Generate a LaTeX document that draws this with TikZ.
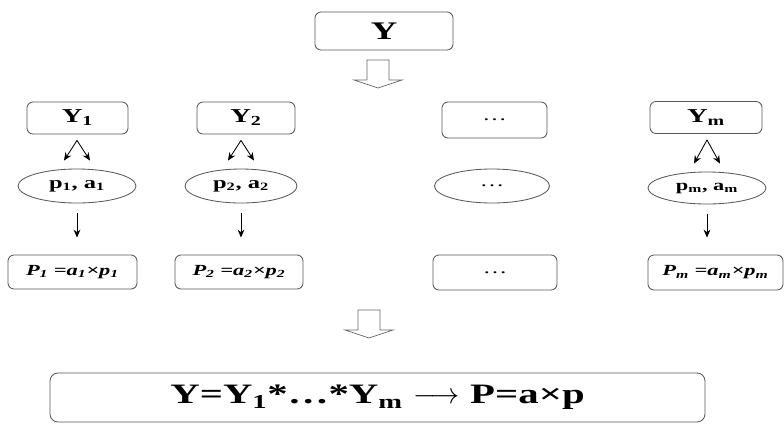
\documentclass[tikz,border=0pt]{standalone}
\usepackage{fontspec}
\setmainfont{Liberation Serif}[FakeStretch=1.45]
\usetikzlibrary{arrows.meta,calc,shapes.geometric}
\tikzset{
  box/.style={draw=black!65,line width=0.6pt,rounded corners=1.5mm,inner sep=0pt,minimum height=8mm},
  oval/.style={draw=black!65,line width=0.6pt,ellipse,inner sep=0pt,minimum height=8.5mm},
  hollow/.style={draw=black!60,line width=0.5pt,fill=white},
  link/.style={-{Stealth[length=2mm,width=1.7mm]},line width=0.6pt},
}
\newcommand{\downblock}[1]{\draw[hollow] #1 ++(-11,0) -- ++(22,0) -- ++(0,20) -- ++(13,0) -- ++(-24,8) -- ++(-24,-8) -- ++(13,0) -- cycle;}

\begin{document}
\begin{tikzpicture}[x=0.25mm,y=-0.25mm]
\useasboundingbox (0,0) rectangle (784,423);
% top
\node[box,minimum width=34.5mm,minimum height=9.5mm,font=\fontsize{18}{20}\selectfont\bfseries] (y) at (384,31) {Y};
\downblock{(378,60)}
% row of parts
\node[box,minimum width=25.25mm,font=\fontsize{14}{16}\selectfont\bfseries] (y1) at (77.5,118) {Y\textsubscript{1}};
\node[box,minimum width=24.5mm,font=\fontsize{14}{16}\selectfont\bfseries] (y2) at (246,118) {Y\textsubscript{2}};
\node[box,minimum width=26.25mm,minimum height=9mm,font=\fontsize{12}{14}\selectfont] (ydots) at (494.5,120) {…};
\node[box,minimum width=28mm,font=\fontsize{14}{16}\selectfont\bfseries] (ym) at (706,117.5) {Y\textsubscript{m}};
% parameters
\node[oval,minimum width=29.5mm,font=\fontsize{12}{14}\selectfont\bfseries] (e1) at (77,186) {p\textsubscript{1}, a\textsubscript{1}};
\node[oval,minimum width=28mm,font=\fontsize{12}{14}\selectfont\bfseries] (e2) at (241,186) {p\textsubscript{2}, a\textsubscript{2}};
\node[oval,minimum width=28.75mm,font=\fontsize{12}{14}\selectfont] (edots) at (492,186) {…};
\node[oval,minimum width=29.5mm,minimum height=8mm,font=\fontsize{11}{13}\selectfont\bfseries] (em) at (707,188) {p\textsubscript{m}, a\textsubscript{m}};
% products
\node[box,minimum width=32.25mm,minimum height=8.5mm,font=\fontsize{11}{13}\selectfont\bfseries\itshape] (p1) at (72.5,272) {P\textsubscript{1} =a\textsubscript{1}×p\textsubscript{1}};
\node[box,minimum width=32mm,minimum height=8.5mm,font=\fontsize{11}{13}\selectfont\bfseries\itshape] (p2) at (239,272) {P\textsubscript{2} =a\textsubscript{2}×p\textsubscript{2}};
\node[box,minimum width=31mm,minimum height=8.75mm,font=\fontsize{12}{14}\selectfont] (pdots) at (495,272.5) {…};
\node[box,minimum width=33.75mm,minimum height=8.75mm,font=\fontsize{11}{13}\selectfont\bfseries\itshape] (pm) at (715.5,272.5) {P\textsubscript{m} =a\textsubscript{m}×p\textsubscript{m}};
% forks
\draw[link] ($(e1.north |- y1.south)+(0,6)$) -- ($(e1.north)+(-13,-8)$);
\draw[link] ($(e1.north |- y1.south)+(0,6)$) -- ($(e1.north)+(13,-8)$);
\draw[link] ($(e2.north |- y2.south)+(0,6)$) -- ($(e2.north)+(-13,-8)$);
\draw[link] ($(e2.north |- y2.south)+(0,6)$) -- ($(e2.north)+(13,-8)$);
\draw[link] ($(em.north |- ym.south)+(0,6)$) -- ($(em.north)+(-13,-8)$);
\draw[link] ($(em.north |- ym.south)+(0,6)$) -- ($(em.north)+(13,-8)$);
% down
\draw[link] ($(e1.south)+(0,10)$) -- ($(e1.south |- p1.north)+(0,-17)$);
\draw[link] ($(e2.south)+(0,10)$) -- ($(e2.south |- p2.north)+(0,-17)$);
\draw[link] ($(em.south)+(0,10)$) -- ($(em.south |- pm.north)+(0,-17)$);
% result
\downblock{(369,310)}
\node[box,minimum width=163.75mm,minimum height=12.25mm,rounded corners=2mm,font=\fontsize{20}{22}\selectfont\bfseries] (res) at (377.5,397.5) {Y=Y\textsubscript{1}*…*Y\textsubscript{m} $\longrightarrow$ P=a×p};
\end{tikzpicture}
\end{document}
